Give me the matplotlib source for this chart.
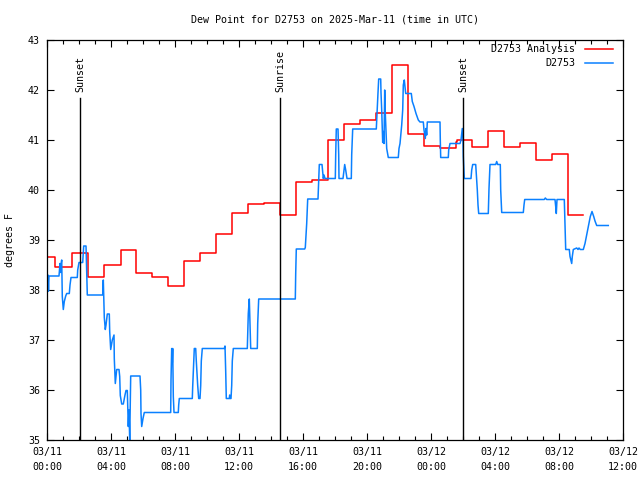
import matplotlib
matplotlib.use("Agg")
import matplotlib.pyplot as plt

plt.rcParams["font.family"] = ["DejaVu Sans Mono"]

# ─────────────────────────────────────────────
# data (time in hours since 2025-03-11 00:00 UTC, dew point in F)
# ─────────────────────────────────────────────
TITLE = "Dew Point for D2753 on 2025-Mar-11 (time in UTC)"

# hourly analysis, step changes
analysis_t = [0.00, 0.48, 1.59, 2.59, 3.59, 4.63, 5.59, 6.56, 7.56, 8.56,
              9.56, 10.56, 11.59, 12.59, 13.58, 14.59, 15.56, 16.56, 17.56,
              18.56, 19.56, 20.56, 21.59, 22.56, 23.56, 24.56, 25.56, 25.64,
              26.56, 27.56, 28.56, 29.59, 30.59, 31.59, 32.59, 33.52]
analysis_v = [38.65, 38.45, 38.73, 38.25, 38.50, 38.79, 38.33, 38.25, 38.07,
              38.58, 38.74, 39.12, 39.53, 39.71, 39.73, 39.50, 40.15, 40.20,
              41.00, 41.31, 41.39, 41.55, 42.49, 41.12, 40.88, 40.83, 40.95,
              41.01, 40.85, 41.18, 40.85, 40.93, 40.59, 40.72, 39.49, 39.49]

# station observations
obs_t = [0.000, 0.031, 0.063, 0.094, 0.125, 0.750, 0.813, 0.856, 0.894, 0.919,
         0.956, 1.019, 1.081, 1.169, 1.231, 1.394, 1.438, 1.500, 1.894, 1.919,
         2.000, 2.231, 2.294, 2.438, 2.481, 2.519, 3.481, 3.494, 3.519, 3.581,
         3.644, 3.688, 3.769, 3.894, 3.919, 3.981, 4.081, 4.188, 4.206, 4.269,
         4.356, 4.500, 4.544, 4.581, 4.669, 4.769, 4.875, 4.938, 5.019, 5.081,
         5.125, 5.169, 5.231, 5.813, 5.856, 5.875, 5.919, 6.000, 6.081, 7.731,
         7.750, 7.794, 7.831, 7.856, 7.894, 7.938, 8.206, 8.231, 8.269, 9.081,
         9.106, 9.169, 9.206, 9.294, 9.331, 9.419, 9.481, 9.563, 9.606, 9.644,
         9.706, 11.081, 11.125, 11.169, 11.206, 11.394, 11.419, 11.438, 11.500,
         11.544, 11.581, 11.644, 12.519, 12.544, 12.581, 12.644, 12.688, 12.731,
         13.144, 13.169, 13.231, 15.519, 15.544, 15.581, 16.106, 16.144, 16.231,
         16.294, 16.938, 16.981, 17.019, 17.188, 17.231, 17.269, 17.313, 17.375,
         18.019, 18.044, 18.081, 18.188, 18.231, 18.250, 18.500, 18.606, 18.669,
         18.750, 19.019, 19.044, 19.106, 20.581, 20.625, 20.688, 20.731, 20.856,
         20.875, 20.919, 20.981, 21.019, 21.063, 21.106, 21.144, 21.231, 21.331,
         21.956, 22.000, 22.063, 22.169, 22.231, 22.269, 22.331, 22.419, 22.769,
         22.831, 22.938, 23.063, 23.206, 23.313, 23.519, 23.563, 23.644, 23.688,
         23.731, 23.769, 24.563, 24.581, 24.606, 25.081, 25.106, 25.188, 25.813,
         25.875, 25.919, 25.956, 26.000, 26.019, 26.081, 26.500, 26.544, 26.606,
         26.794, 26.831, 26.894, 26.938, 26.981, 27.581, 27.625, 27.688, 28.044,
         28.106, 28.169, 28.331, 28.356, 28.419, 29.769, 29.813, 29.856, 31.081,
         31.144, 31.231, 31.750, 31.794, 31.831, 31.875, 32.331, 32.375, 32.419,
         32.644, 32.688, 32.794, 32.831, 32.894, 33.106, 33.188, 33.250, 33.331,
         33.519, 33.625, 33.750, 33.875, 33.956, 34.063, 34.169, 34.250, 34.356,
         35.081]
obs_v = [38.40, 37.97, 38.30, 37.98, 38.28, 38.28, 38.53, 38.35, 38.55, 38.60,
         37.87, 37.61, 37.77, 37.88, 37.93, 37.93, 38.10, 38.25, 38.25, 38.40,
         38.55, 38.55, 38.88, 38.88, 38.40, 37.90, 37.90, 38.03, 38.20, 37.45,
         37.21, 37.30, 37.52, 37.52, 37.17, 36.81, 37.00, 37.10, 36.63, 36.13,
         36.41, 36.41, 36.27, 35.89, 35.72, 35.72, 35.90, 35.99, 35.99, 35.27,
         35.60, 35.00, 36.28, 36.28, 36.00, 35.53, 35.27, 35.43, 35.55, 35.55,
         36.20, 36.83, 36.55, 36.83, 35.87, 35.55, 35.55, 35.70, 35.83, 35.83,
         36.07, 36.58, 36.83, 36.83, 36.58, 36.09, 35.83, 35.83, 36.09, 36.58,
         36.83, 36.83, 36.88, 36.37, 35.83, 35.83, 35.90, 35.83, 35.83, 36.09,
         36.58, 36.83, 36.83, 37.10, 37.53, 37.82, 37.33, 36.83, 36.83, 37.33,
         37.82, 37.82, 38.33, 38.82, 38.82, 38.85, 39.33, 39.82, 39.82, 40.17,
         40.51, 40.51, 40.36, 40.23, 40.30, 40.23, 40.23, 40.71, 41.22, 41.22,
         40.71, 40.23, 40.23, 40.51, 40.40, 40.23, 40.23, 40.71, 41.22, 41.22,
         41.53, 41.95, 42.22, 42.22, 41.95, 41.60, 40.95, 41.17, 40.93, 42.00,
         41.53, 40.83, 40.65, 40.65, 40.83, 40.93, 41.30, 41.60, 42.10, 42.20,
         41.93, 41.93, 41.77, 41.67, 41.53, 41.40, 41.36, 41.36, 41.20, 41.03,
         41.23, 41.10, 41.36, 41.36, 41.00, 40.65, 40.65, 40.80, 40.93, 40.93,
         41.00, 41.13, 41.23, 41.00, 40.67, 40.23, 40.23, 40.40, 40.51, 40.51,
         40.33, 40.00, 39.70, 39.53, 39.53, 40.03, 40.51, 40.51, 40.57, 40.51,
         40.51, 40.00, 39.55, 39.55, 39.70, 39.81, 39.81, 39.84, 39.81, 39.81,
         39.67, 39.53, 39.81, 39.81, 39.33, 38.81, 38.81, 38.67, 38.53, 38.67,
         38.81, 38.84, 38.81, 38.84, 38.81, 38.81, 38.93, 39.13, 39.33, 39.47,
         39.57, 39.47, 39.38, 39.29, 39.29]

sun_t = [2.0625, 14.5625, 26.0]
sun_labels = ["Sunset", "Sunrise", "Sunset"]

xtick_hours = [0, 4, 8, 12, 16, 20, 24, 28, 32, 36]
xtick_labels = ["03/11\n00:00", "03/11\n04:00", "03/11\n08:00", "03/11\n12:00",
                "03/11\n16:00", "03/11\n20:00", "03/12\n00:00", "03/12\n04:00",
                "03/12\n08:00", "03/12\n12:00"]
yticks = [35, 36, 37, 38, 39, 40, 41, 42, 43]

RED = "#ff0000"
BLUE = "#0a80ff"

fig = plt.figure(figsize=(6.4, 4.8), dpi=100)
ax = fig.add_axes([47 / 640, 40 / 480, 576 / 640, 400 / 480])

ax.plot(analysis_t, analysis_v, color=RED, linewidth=1.1, drawstyle="steps-post")
ax.plot(obs_t, obs_v, color=BLUE, linewidth=1.1)

# sunrise / sunset markers
for t, lab in zip(sun_t, sun_labels):
    ax.plot([t, t], [35, 41.84], color="black", linewidth=1.0)
    ax.text(t, 41.96, lab, rotation=90, ha="center", va="bottom", fontsize=7.2)

ax.set_xlim(0, 36)
ax.set_ylim(35, 43)
ax.set_xticks(xtick_hours)
ax.set_xticks(range(0, 37), minor=True)
ax.set_xticklabels(xtick_labels, fontsize=7.2, linespacing=1.6)
ax.set_yticks(yticks)
ax.set_yticklabels([str(v) for v in yticks], fontsize=7.2)
ax.tick_params(which="major", direction="in", top=True, right=True,
               length=5, width=0.8, pad=5)
ax.tick_params(which="minor", direction="in", top=True, right=False,
               length=3, width=0.8)
ax.tick_params(axis="y", which="minor", left=False, right=False)
for s in ax.spines.values():
    s.set_linewidth(0.9)

# legend drawn by hand (text right aligned, sample on the right)
for yy, lab, col in [(0.9775, "D2753 Analysis", RED), (0.9425, "D2753", BLUE)]:
    ax.text(0.9167, yy, lab, transform=ax.transAxes, ha="right", va="center",
            fontsize=7.2)
    ax.plot([0.934, 0.983], [yy, yy], transform=ax.transAxes, color=col,
            linewidth=1.1, clip_on=False)

fig.text(335 / 640, 1 - 20 / 480, TITLE, ha="center", va="center", fontsize=7.2)
fig.text(10 / 640, 0.5, "degrees F", rotation=90, ha="center", va="center",
         fontsize=7.2)

fig.savefig("out.png", dpi=100)
